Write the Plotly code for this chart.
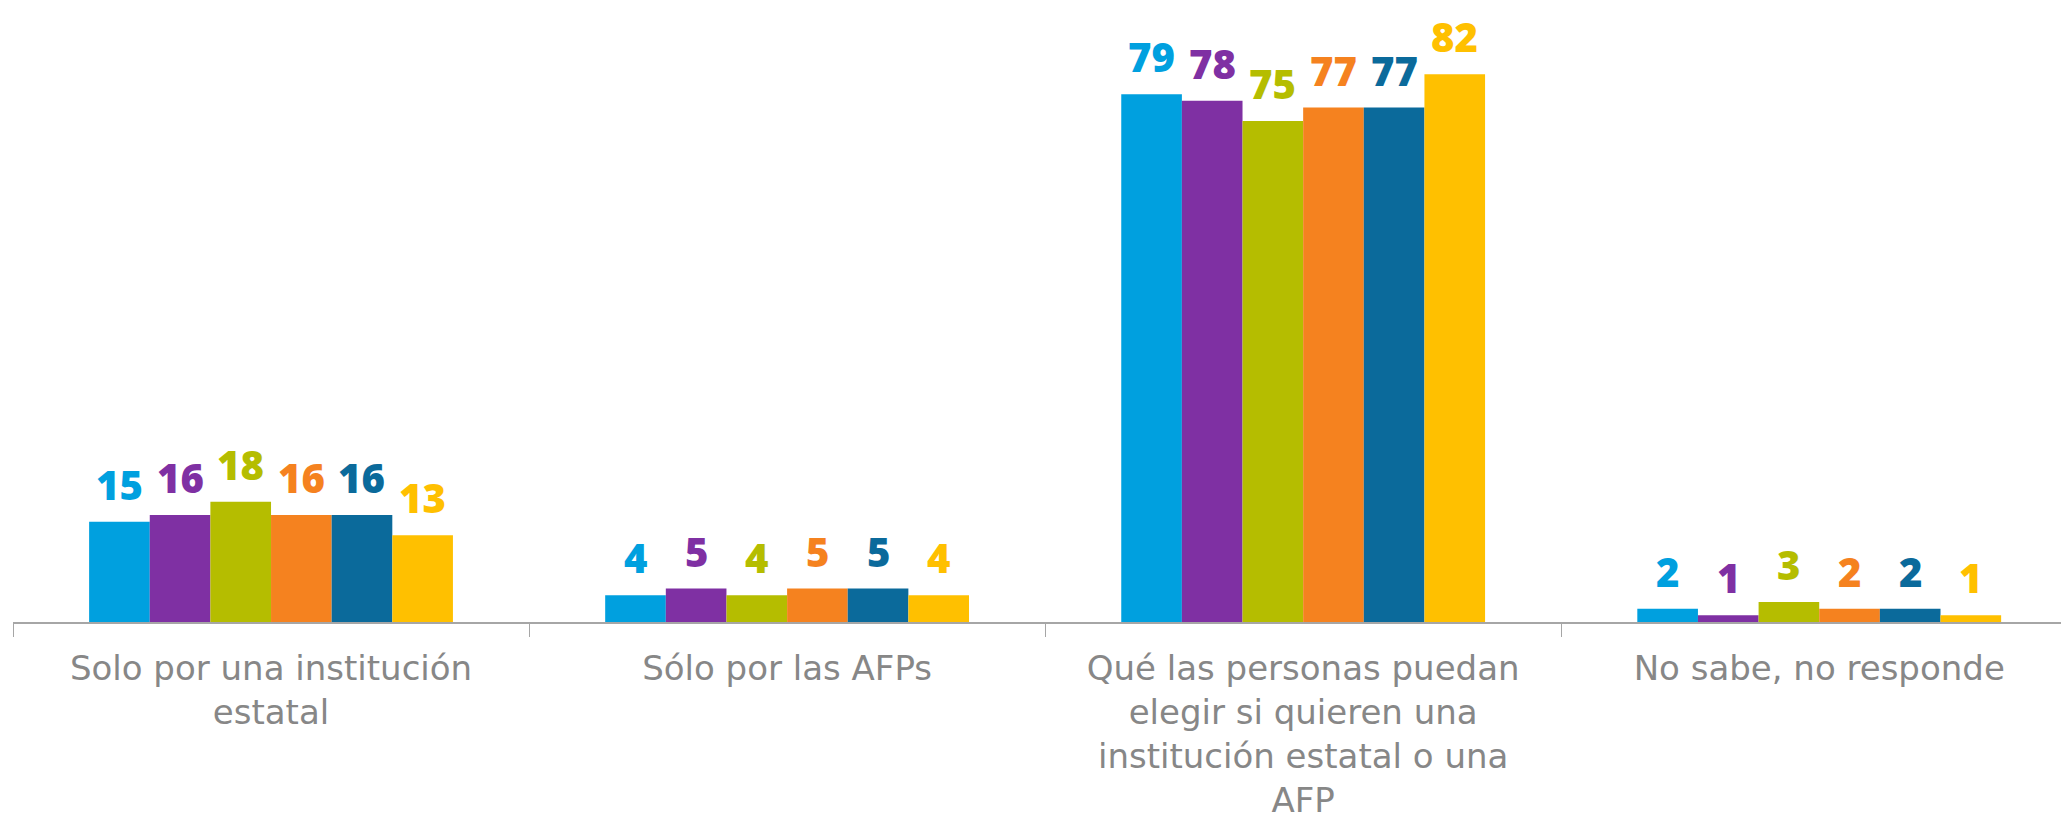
import plotly.graph_objects as go

categorias = [
    "Solo por una institución<br>estatal",
    "Sólo por las AFPs",
    "Qué las personas puedan<br>elegir si quieren una<br>institución estatal o una<br>AFP",
    "No sabe, no responde",
]

serie_1 = [15, 4, 79, 2]
serie_2 = [16, 5, 78, 1]
serie_3 = [18, 4, 75, 3]
serie_4 = [16, 5, 77, 2]
serie_5 = [16, 5, 77, 2]
serie_6 = [13, 4, 82, 1]

series = [serie_1, serie_2, serie_3, serie_4, serie_5, serie_6]
nombres = ["Serie 1", "Serie 2", "Serie 3", "Serie 4", "Serie 5", "Serie 6"]
colores = ["#00A0DF", "#7F30A3", "#B5BD00", "#F5821F", "#0B6A9B", "#FFC000"]

bargap = 0.295
ancho = (1 - bargap) / len(series)

fig = go.Figure()
for j, (vals, nombre, color) in enumerate(zip(series, nombres, colores)):
    fig.add_trace(go.Bar(x=categorias, y=vals, name=nombre, marker_color=color,
                         marker_line_width=0))
    # etiquetas de valor sobre cada barra
    for i, v in enumerate(vals):
        fig.add_annotation(x=i + (j - (len(series) - 1) / 2) * ancho, y=v,
                           text=str(v), showarrow=False, yanchor="bottom", yshift=8,
                           font=dict(family="Open Sans", size=40, color=color, weight=800))

# la página html añade 8 px de margen arriba y a la izquierda
fig.update_layout(
    width=2061, height=814,
    barmode="group", bargap=bargap, bargroupgap=0,
    showlegend=False,
    plot_bgcolor="white", paper_bgcolor="white",
    margin=dict(l=5, r=0, t=0, b=200),
    font=dict(family="DejaVu Sans", color="#878787"),
)
# el eje se corta en el borde derecho, como en el original
fig.update_xaxes(showline=True, linecolor="#A6A6A6", linewidth=2,
                 range=[-0.5, 3.484], automargin=False,
                 ticks="outside", tickson="boundaries", ticklen=13, tickcolor="#A6A6A6",
                 ticklabelstandoff=15,
                 tickfont=dict(size=34, color="#878787", family="DejaVu Sans"),
                 tickangle=0)
fig.update_yaxes(visible=False, range=[0, 91.9], automargin=False)

fig.write_html("out.html")
